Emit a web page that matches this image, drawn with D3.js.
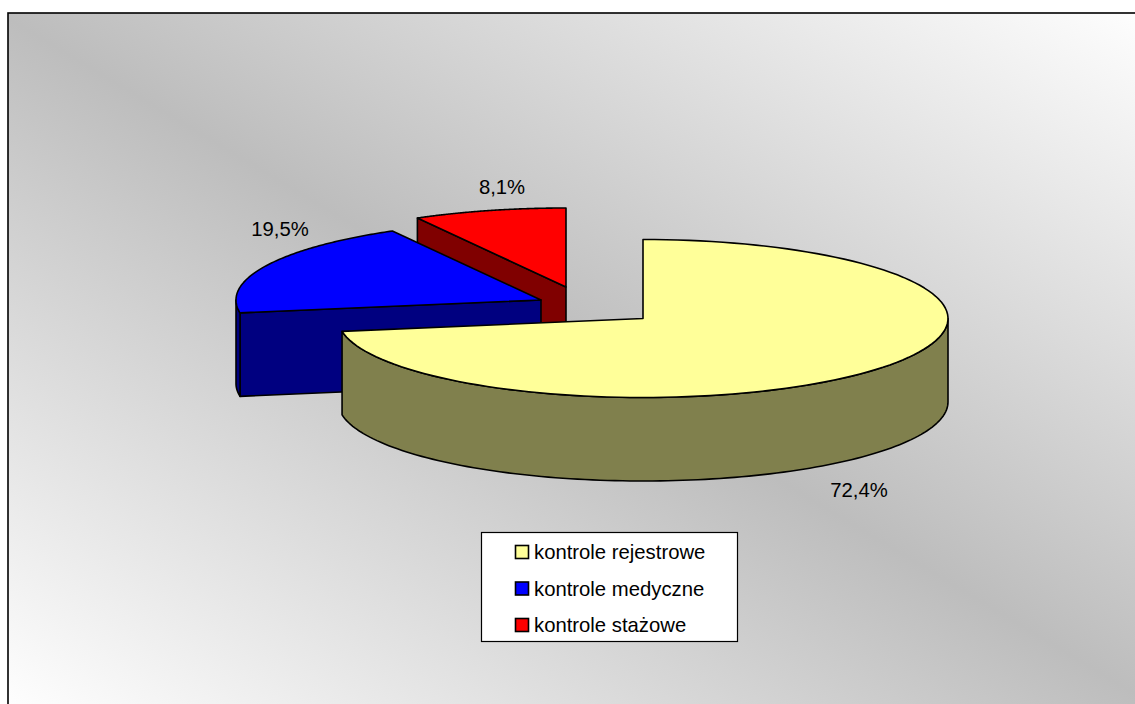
<!DOCTYPE html>
<html>
<head>
<meta charset="utf-8">
<script src="https://cdn.jsdelivr.net/npm/d3@7"></script>
<style>
    html, body { margin: 0; padding: 0; background: #fff; }
    svg { display: block; }
    text { font-family: "Liberation Sans", Arial, sans-serif; fill: #000; }
</style>
</head>
<body>
<script>
//chart data
var categories = ["kontrole rejestrowe", "kontrole medyczne", "kontrole stażowe"];
var values = [72.4, 19.5, 8.1];
var valueLabels = ["72,4%", "19,5%", "8,1%"];
var topColors = ["#ffff99", "#0000ff", "#ff0000"];
var sideColors = ["#80804d", "#000080", "#800000"];

window.onload = setChart();

function setChart(){

    var width = 1135,
        height = 704;

    var svg = d3.select("body")
        .append("svg")
        .attr("width", width)
        .attr("height", height);

    //background gradient, grey band running top left to bottom right
    var grad = svg.append("defs").append("linearGradient")
        .attr("id", "bg")
        .attr("gradientUnits", "userSpaceOnUse")
        .attr("x1", 878).attr("y1", -159)
        .attr("x2", 262).attr("y2", 869);
    grad.append("stop").attr("offset", "0").attr("stop-color", "#ffffff");
    grad.append("stop").attr("offset", "0.5").attr("stop-color", "#bdbdbd");
    grad.append("stop").attr("offset", "1").attr("stop-color", "#ffffff");

    svg.append("rect")
        .attr("x", 8).attr("y", 13)
        .attr("width", 1140).attr("height", 710)
        .attr("fill", "url(#bg)")
        .attr("stroke", "#000")
        .attr("stroke-width", 1.6);

    //pie geometry
    var rx = 305, ry = 79, depth = 83.5;
    var centers = [[643, 318.5], [541, 300], [566, 287]];

    var arcs = d3.pie().sort(null)(values);

    function pt(i, a, dy){
        return [centers[i][0] + rx * Math.sin(a),
                centers[i][1] - ry * Math.cos(a) + (dy || 0)];
    }
    function rim(i, a0, a1, dy){
        return d3.range(0, 121).map(function(k){
            return pt(i, a0 + (a1 - a0) * k / 120, dy);
        });
    }
    var line = d3.line();

    function drawPath(points, fill){
        svg.append("path")
            .attr("d", line(points) + "Z")
            .attr("fill", fill)
            .attr("stroke", "#000")
            .attr("stroke-width", 1.6)
            .attr("stroke-linejoin", "round");
    }

    //back to front: red, blue, yellow
    [2, 1, 0].forEach(function(i){
        var d = arcs[i],
            a0 = d.startAngle,
            a1 = d.endAngle,
            c = centers[i];

        //cut face on the start side
        if (i > 0) {
            drawPath([pt(i, a0), c, [c[0], c[1] + depth], pt(i, a0, depth)], sideColors[i]);
        }
        //outer wall, only the part facing the viewer
        var s0 = Math.max(a0, Math.PI / 2),
            s1 = Math.min(a1, 3 * Math.PI / 2);
        if (s1 > s0) {
            drawPath(rim(i, s0, s1, 0).concat(rim(i, s1, s0, depth)), sideColors[i]);
        }
        //top
        drawPath([c].concat(rim(i, a0, a1, 0)), topColors[i]);
    });

    //value labels
    var labelPos = [[859, 490], [280, 229], [502, 187]];
    svg.selectAll(".val")
        .data(valueLabels)
        .enter()
        .append("text")
        .attr("class", "val")
        .attr("x", function(d, i){ return labelPos[i][0]; })
        .attr("y", function(d, i){ return labelPos[i][1]; })
        .attr("dy", "0.35em")
        .attr("text-anchor", "middle")
        .attr("font-size", 20.3)
        .text(function(d){ return d; });

    //legend
    svg.append("rect")
        .attr("x", 481.5).attr("y", 532.5)
        .attr("width", 256).attr("height", 109)
        .attr("fill", "#fff")
        .attr("stroke", "#000")
        .attr("stroke-width", 1.2);

    var legendY = d3.scalePoint()
        .domain(categories)
        .range([552, 625]);

    var items = svg.selectAll(".item")
        .data(categories)
        .enter()
        .append("g")
        .attr("class", "item")
        .attr("transform", function(d){ return "translate(0," + legendY(d) + ")"; });

    items.append("rect")
        .attr("x", 515.5).attr("y", -6.5)
        .attr("width", 13).attr("height", 13)
        .attr("fill", function(d, i){ return topColors[i]; })
        .attr("stroke", "#000")
        .attr("stroke-width", 1.6);

    items.append("text")
        .attr("x", 534)
        .attr("dy", "0.35em")
        .attr("font-size", 20.3)
        .text(function(d){ return d; });
}
</script>
</body>
</html>
